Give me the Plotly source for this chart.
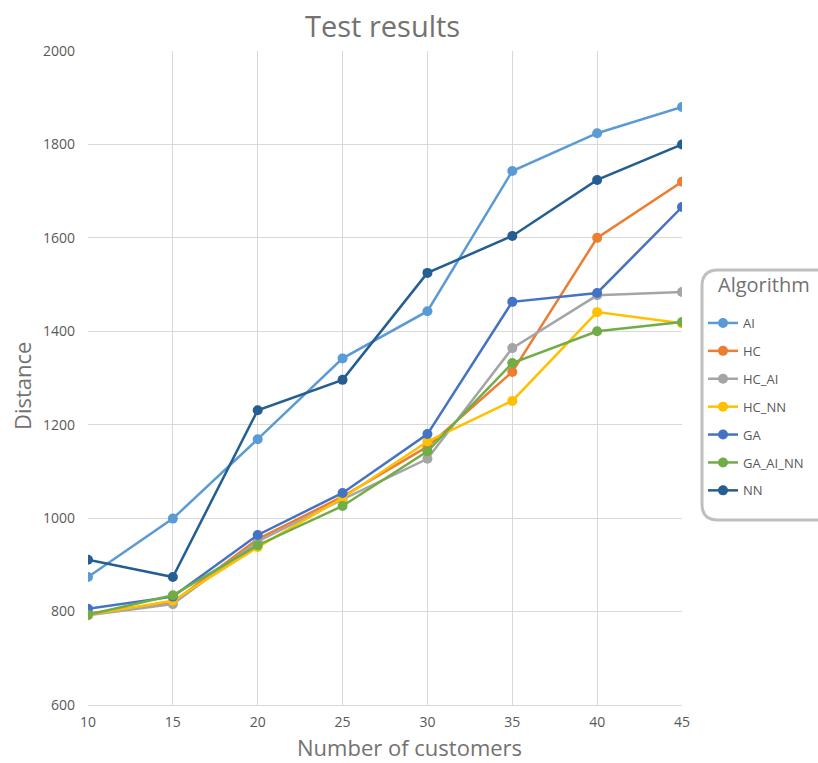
import plotly.graph_objects as go

customers = [10, 15, 20, 25, 30, 35, 40, 45]
series_names = ["AI", "HC", "HC_AI", "HC_NN", "GA", "GA_AI_NN", "NN"]
AI = [874, 999, 1169, 1342, 1443, 1743, 1824, 1880]
HC = [796, 820, 955, 1046, 1153, 1313, 1600, 1720]
HC_AI = [792, 816, 950, 1040, 1127, 1364, 1477, 1484]
HC_NN = [793, 823, 938, 1043, 1164, 1251, 1441, 1417]
GA = [806, 832, 964, 1054, 1180, 1463, 1482, 1666]
GA_AI_NN = [793, 835, 942, 1026, 1143, 1332, 1400, 1420]
NN = [911, 874, 1231, 1296, 1525, 1604, 1724, 1800]
colors = ["#5B9BD5", "#ED7D31", "#A5A5A5", "#FFC000", "#4472C4", "#70AD47", "#255E91"]
y_ticks = [600, 800, 1000, 1200, 1400, 1600, 1800, 2000]

data = [AI, HC, HC_AI, HC_NN, GA, GA_AI_NN, NN]

fig = go.Figure()
for name, vals, col in zip(series_names, data, colors):
    fig.add_trace(go.Scatter(
        x=customers, y=vals, name=name, mode="lines+markers",
        line=dict(color=col, width=2.5),
        marker=dict(color=col, size=10),
        legendgroup=name,
    ))

W, H = 818, 763
L, R, T, B = 88, 136, 51, 58
pw, ph = W - L - R, H - T - B

def px(x):
    return (x - L) / pw

def py(y):
    return (H - B - y) / ph

# rounded legend box
x0, x1, y0, y1, r = 702, 830, 270, 520, 16
path = (f"M {px(x0 + r)} {py(y0)} L {px(x1)} {py(y0)} L {px(x1)} {py(y1)} "
        f"L {px(x0 + r)} {py(y1)} Q {px(x0)} {py(y1)} {px(x0)} {py(y1 - r)} "
        f"L {px(x0)} {py(y0 + r)} Q {px(x0)} {py(y0)} {px(x0 + r)} {py(y0)} Z")

title_col = "#757171"
fig.update_layout(
    width=W, height=H,
    margin=dict(l=L, r=R, t=T, b=B, autoexpand=False),
    paper_bgcolor="white", plot_bgcolor="white",
    font=dict(family="Open Sans", color="#595959"),
    xaxis=dict(range=[10, 45], tickvals=customers, showgrid=True,
               gridcolor="#D9D9D9", gridwidth=1, zeroline=False,
               showline=True, linecolor="#D9D9D9", mirror=False,
               tickfont=dict(size=14, color="#595959"), ticklabelstandoff=4),
    yaxis=dict(range=[600, 2000], tickvals=y_ticks, showgrid=True,
               gridcolor="#D9D9D9", gridwidth=1, zeroline=False,
               tickfont=dict(size=14, color="#595959"), ticklabelstandoff=12),
    legend=dict(x=px(703), y=py(308), xanchor="left", yanchor="top",
                bgcolor="rgba(0,0,0,0)", borderwidth=0,
                font=dict(size=13, color="#595959"),
                tracegroupgap=8, itemwidth=30),
    annotations=[
        dict(text="Test results", xref="paper", yref="paper", x=px(382), y=py(25),
             xanchor="center", yanchor="middle", showarrow=False,
             font=dict(size=29, color=title_col)),
        dict(text="Number of customers", xref="paper", yref="paper", x=px(409), y=py(747),
             xanchor="center", yanchor="middle", showarrow=False,
             font=dict(size=22, color=title_col)),
        dict(text="Distance", xref="paper", yref="paper", x=px(22), y=py(386),
             xanchor="center", yanchor="middle", showarrow=False, textangle=-90,
             font=dict(size=22, color=title_col)),
        dict(text="Algorithm", xref="paper", yref="paper", x=px(716), y=py(284),
             xanchor="left", yanchor="middle", showarrow=False,
             font=dict(size=20, color=title_col)),
    ],
    shapes=[dict(type="path", xref="paper", yref="paper", path=path,
                 line=dict(color="#BFBFBF", width=3), fillcolor="rgba(0,0,0,0)",
                 layer="below")],
)

fig.write_html("out.html")
